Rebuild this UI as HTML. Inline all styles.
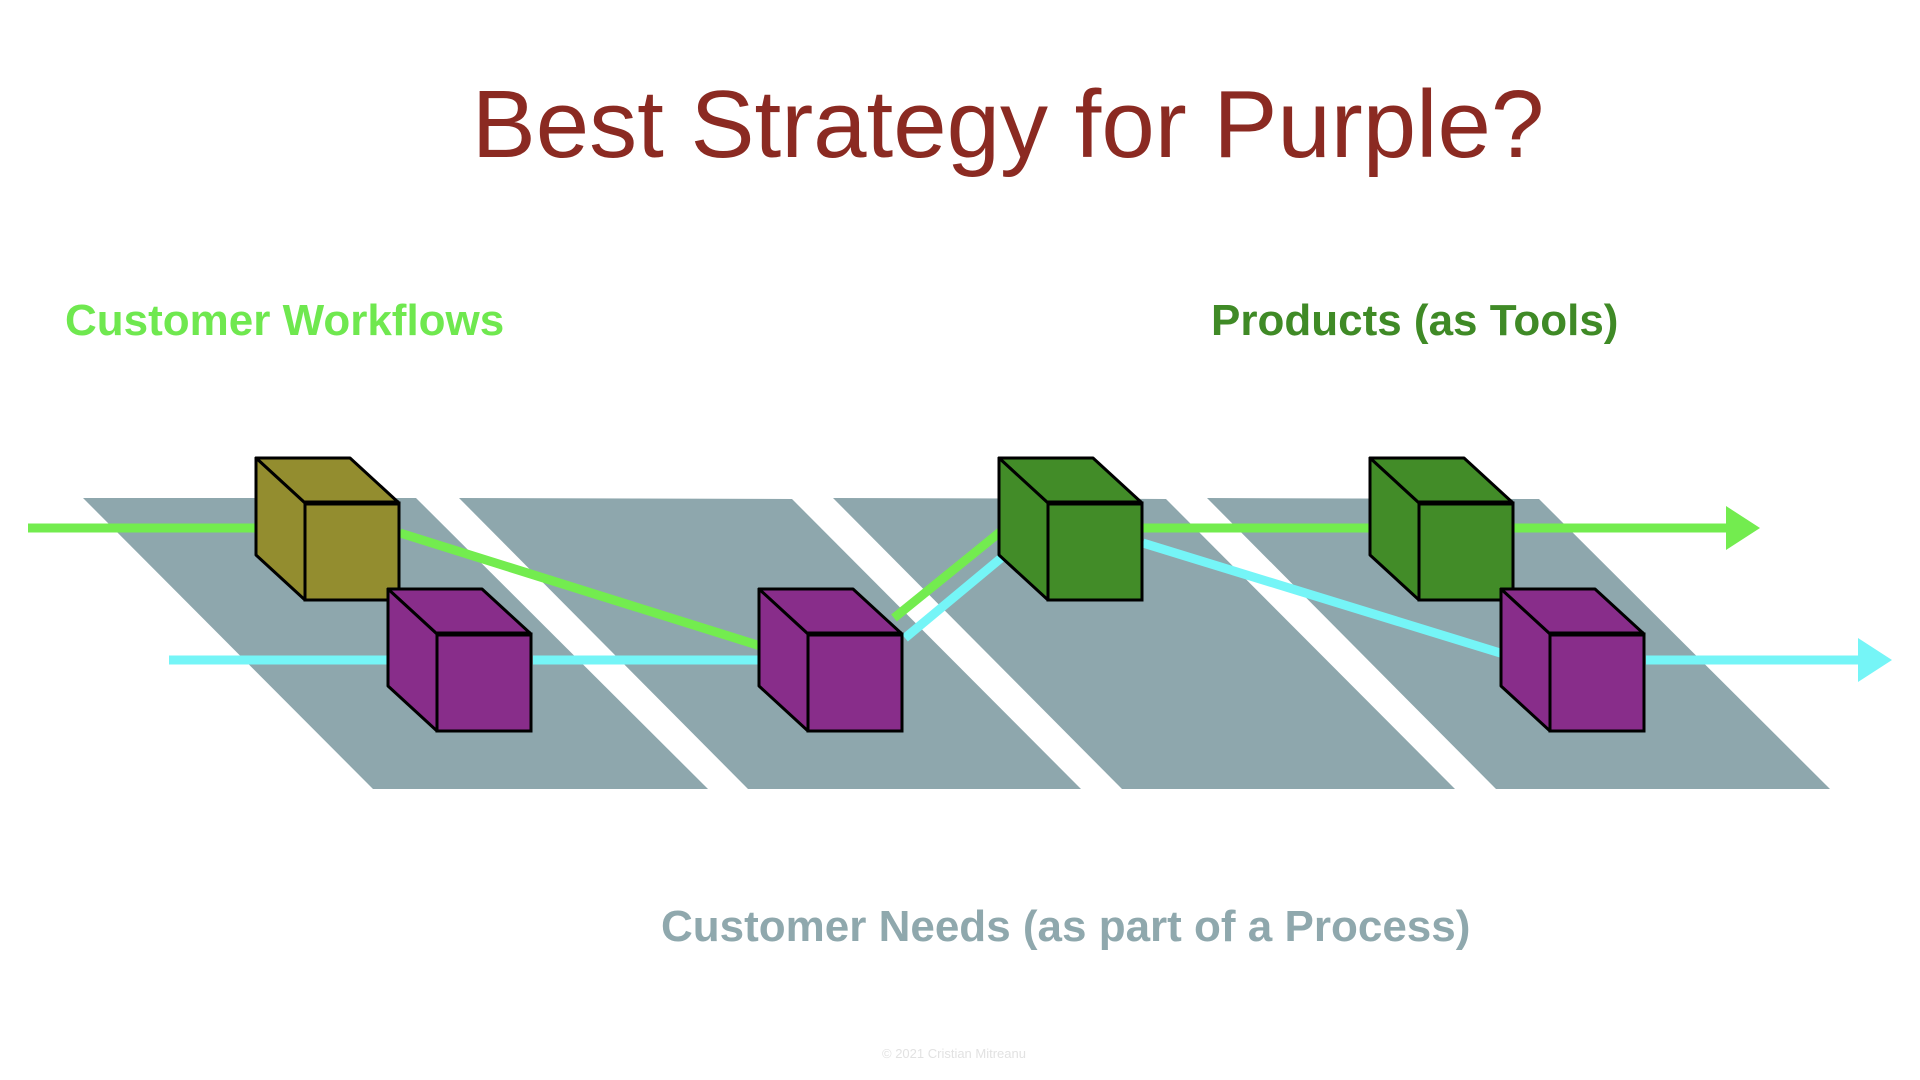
<!DOCTYPE html>
<html><head><meta charset="utf-8"><style>
html,body{margin:0;padding:0;background:#fff;}
svg{display:block;}
</style></head><body>
<svg width="1920" height="1080" viewBox="0 0 1920 1080" xmlns="http://www.w3.org/2000/svg">
<defs>
<g id="cube">
<polygon points="0,0 94,0 143,45 49,45" stroke="#000" stroke-width="3" stroke-linejoin="round"/>
<polygon points="0,0 49,45 49,142 0,97" stroke="#000" stroke-width="3" stroke-linejoin="round"/>
<rect x="49" y="45" width="94" height="97" stroke="#000" stroke-width="3"/>
<line x1="49" y1="45" x2="143" y2="45" stroke="#000" stroke-width="5"/>
</g>
</defs>
<g fill="#8ea7ad">
<polygon points="83,498 416,498 708,789 373,789"/>
<polygon points="459,498 792,499 1081,789 748,789"/>
<polygon points="833,498 1166,499 1455,789 1122,789"/>
<polygon points="1207,498 1539,499 1830,789 1496,789"/>
</g>
<text x="1008" y="157" text-anchor="middle" font-family="Liberation Sans, sans-serif" font-size="96" fill="#8b2a22">Best Strategy for Purple?</text>
<text x="65" y="335" font-family="Liberation Sans, sans-serif" font-weight="bold" font-size="44" fill="#6fe84f">Customer Workflows</text>
<text x="1211" y="335" font-family="Liberation Sans, sans-serif" font-weight="bold" font-size="44" fill="#3f8a26">Products (as Tools)</text>
<text x="661" y="941" font-family="Liberation Sans, sans-serif" font-weight="bold" font-size="44" fill="#8fa8ad">Customer Needs (as part of a Process)</text>
<text x="882" y="1058" font-family="Liberation Sans, sans-serif" font-size="13" fill="#e2e2e2">© 2021 Cristian Mitreanu</text>
<g stroke-width="9" fill="none">
<line x1="28" y1="528" x2="271" y2="528" stroke="#73ec4f"/>
<line x1="400" y1="533" x2="770" y2="649" stroke="#73ec4f"/>
<line x1="894" y1="618" x2="1010" y2="524" stroke="#73ec4f"/>
<line x1="1143" y1="528" x2="1392" y2="528" stroke="#73ec4f"/>
<line x1="1513" y1="528" x2="1730" y2="528" stroke="#73ec4f"/>
<line x1="169" y1="660" x2="411" y2="660" stroke="#75f5f7"/>
<line x1="533" y1="660" x2="786" y2="660" stroke="#75f5f7"/>
<line x1="905" y1="638" x2="1024" y2="539" stroke="#75f5f7"/>
<line x1="1143" y1="543" x2="1523" y2="660" stroke="#75f5f7"/>
<line x1="1646" y1="660" x2="1862" y2="660" stroke="#75f5f7"/>
</g>
<polygon points="1726,506 1760,528 1726,550" fill="#73ec4f"/>
<polygon points="1858,638 1892,660 1858,682" fill="#75f5f7"/>
<use href="#cube" x="256" y="458" fill="#938d2f"/>
<use href="#cube" x="388" y="589" fill="#882d8a"/>
<use href="#cube" x="759" y="589" fill="#882d8a"/>
<use href="#cube" x="999" y="458" fill="#428c28"/>
<use href="#cube" x="1370" y="458" fill="#428c28"/>
<use href="#cube" x="1501" y="589" fill="#882d8a"/>
</svg>
</body></html>
